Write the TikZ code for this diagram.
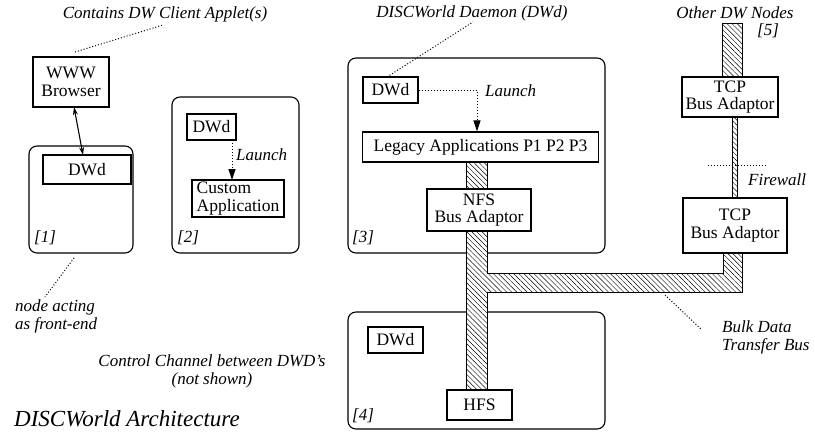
\documentclass[tikz,border=0pt]{standalone}
\usepackage{fontspec}
\setmainfont{Liberation Serif}
\usetikzlibrary{arrows.meta,patterns.meta}
\begin{document}
\begin{tikzpicture}[x=1pt,y=-1pt,
  box/.style={draw,line width=1.1pt,fill=white,inner sep=0pt,font=\fontsize{17.5}{17.5}\selectfont,align=center},
  rbox/.style={draw,line width=1.1pt,rounded corners=8pt,inner sep=0pt},
  lab/.style={inner sep=0pt,font=\fontsize{17}{18}\selectfont\itshape},
  dots/.style={dotted,line width=1pt},
  bus/.style={draw,line width=0.9pt,preaction={fill=white},pattern={Lines[angle=135,distance=3.6pt,line width=0.45pt]}},
  launch/.style={dots,-{Triangle[length=11pt,width=7pt]}}]
\useasboundingbox (0,0) rectangle (815,432);

% rounded node frames
\node[rbox,minimum width=104,minimum height=107] (n1) at (81,199.5) {};
\node[rbox,minimum width=127,minimum height=156] (n2) at (235.5,175) {};
\node[rbox,minimum width=257,minimum height=195] (n3) at (476.5,155.5) {};
\node[rbox,minimum width=257,minimum height=117] (n4) at (476.5,370.5) {};

% buses
\draw[bus] (466,162) rectangle (487,190);
\draw[bus] (466,231) -- (466,390) -- (487,390) -- (487,292) -- (742,292) -- (742,253)
  -- (723,253) -- (723,273) -- (487,273) -- (487,231) -- cycle;
\draw[bus] (722,23) rectangle (742,77);
\draw[bus,line width=0.7pt] (732,117) rectangle (737,198);

% boxes
\node[box,minimum width=76,minimum height=50] (www) at (71,82) {WWW\\Browser};
\node[box,minimum width=88,minimum height=29] (dwd1) at (87,169.5) {DWd};
\node[box,minimum width=49,minimum height=26] (dwd2) at (211.5,127) {DWd};
\node[box,minimum width=92,minimum height=37,align=left] (cust) at (238,198.5) {Custom\\Application};
\node[box,minimum width=55,minimum height=26] (dwd3) at (390.5,90) {DWd};
\node[box,minimum width=236,minimum height=30] (leg) at (480.5,147) {Legacy Applications P1 P2 P3};
\node[box,minimum width=104,minimum height=42] (nfs) at (479,210) {NFS\\Bus Adaptor};
\node[box,minimum width=55,minimum height=26] (dwd4) at (395.5,340) {DWd};
\node[box,minimum width=65,minimum height=30] (hfs) at (479.5,405) {HFS};
\node[box,minimum width=96,minimum height=40] (tcp1) at (730,97) {TCP\\Bus Adaptor};
\node[box,minimum width=104,minimum height=55] (tcp2) at (735,225.5) {TCP\\Bus Adaptor};

% node numbers
\node[lab,anchor=west] (l1) at (34,238) {[1]};
\node[lab,anchor=west] (l2) at (177,238) {[2]};
\node[lab,anchor=west] (l3) at (352,238) {[3]};
\node[lab,anchor=west] (l4) at (352,416) {[4]};
\node[lab] (l5) at (768,31) {[5]};

% annotations
\node[lab] (tapp) at (165,14) {Contains DW Client Applet(s)};
\node[lab] (tdae) at (472,13) {DISCWorld Daemon (DWd)};
\node[lab] (toth) at (735,13) {Other DW Nodes};
\node[lab,anchor=west,align=left] (tfront) at (15,316) {node acting\\as front-end};
\node[lab,align=center] (tctl) at (212,371) {Control Channel between DWD's\\(not shown)};
\node[lab,anchor=west,align=left] (tbulk) at (722,337) {Bulk Data\\Transfer Bus};
\node[lab,anchor=west] (tfw) at (748,180) {Firewall};
\node[lab,anchor=west] (tl2) at (236,155) {Launch};
\node[lab,anchor=west] (tl3) at (485,91) {Launch};
\node[inner sep=0pt,anchor=west,font=\fontsize{23}{23}\selectfont\itshape] (title) at (14,419) {DISCWorld Architecture};

% coordinates for free ends
\coordinate (c1a) at (75,52);
\coordinate (c1b) at (163,25);
\coordinate (c3a) at (387,77);
\coordinate (c3b) at (473,22);
\coordinate (cfa) at (74,258);
\coordinate (cfb) at (45,297);
\coordinate (cba) at (665,295);
\coordinate (cbb) at (702,330);
\coordinate (cwa) at (708,165);
\coordinate (cwb) at (767,165);
\coordinate (aw1) at (74,107);
\coordinate (aw2) at (83,155);
\coordinate (la2a) at (232,140);
\coordinate (la2b) at (232,180);
\coordinate (la3) at (477,90);

% connectors
\draw[dots] (c1a) -- (c1b);
\draw[dots] (c3a) -- (c3b);
\draw[dots] (cfa) -- (cfb);
\draw[dots] (cba) -- (cbb);
\draw[dots] (cwa) -- (cwb);
\draw[{Stealth[length=8pt,width=5pt]}-{Stealth[length=8pt,width=5pt]},line width=1.1pt] (aw1) -- (aw2);
\draw[launch] (la2a) -- (la2b);
\draw[launch] (dwd3.east) -- (la3) -- (la3 |- leg.north);
\end{tikzpicture}
\end{document}
